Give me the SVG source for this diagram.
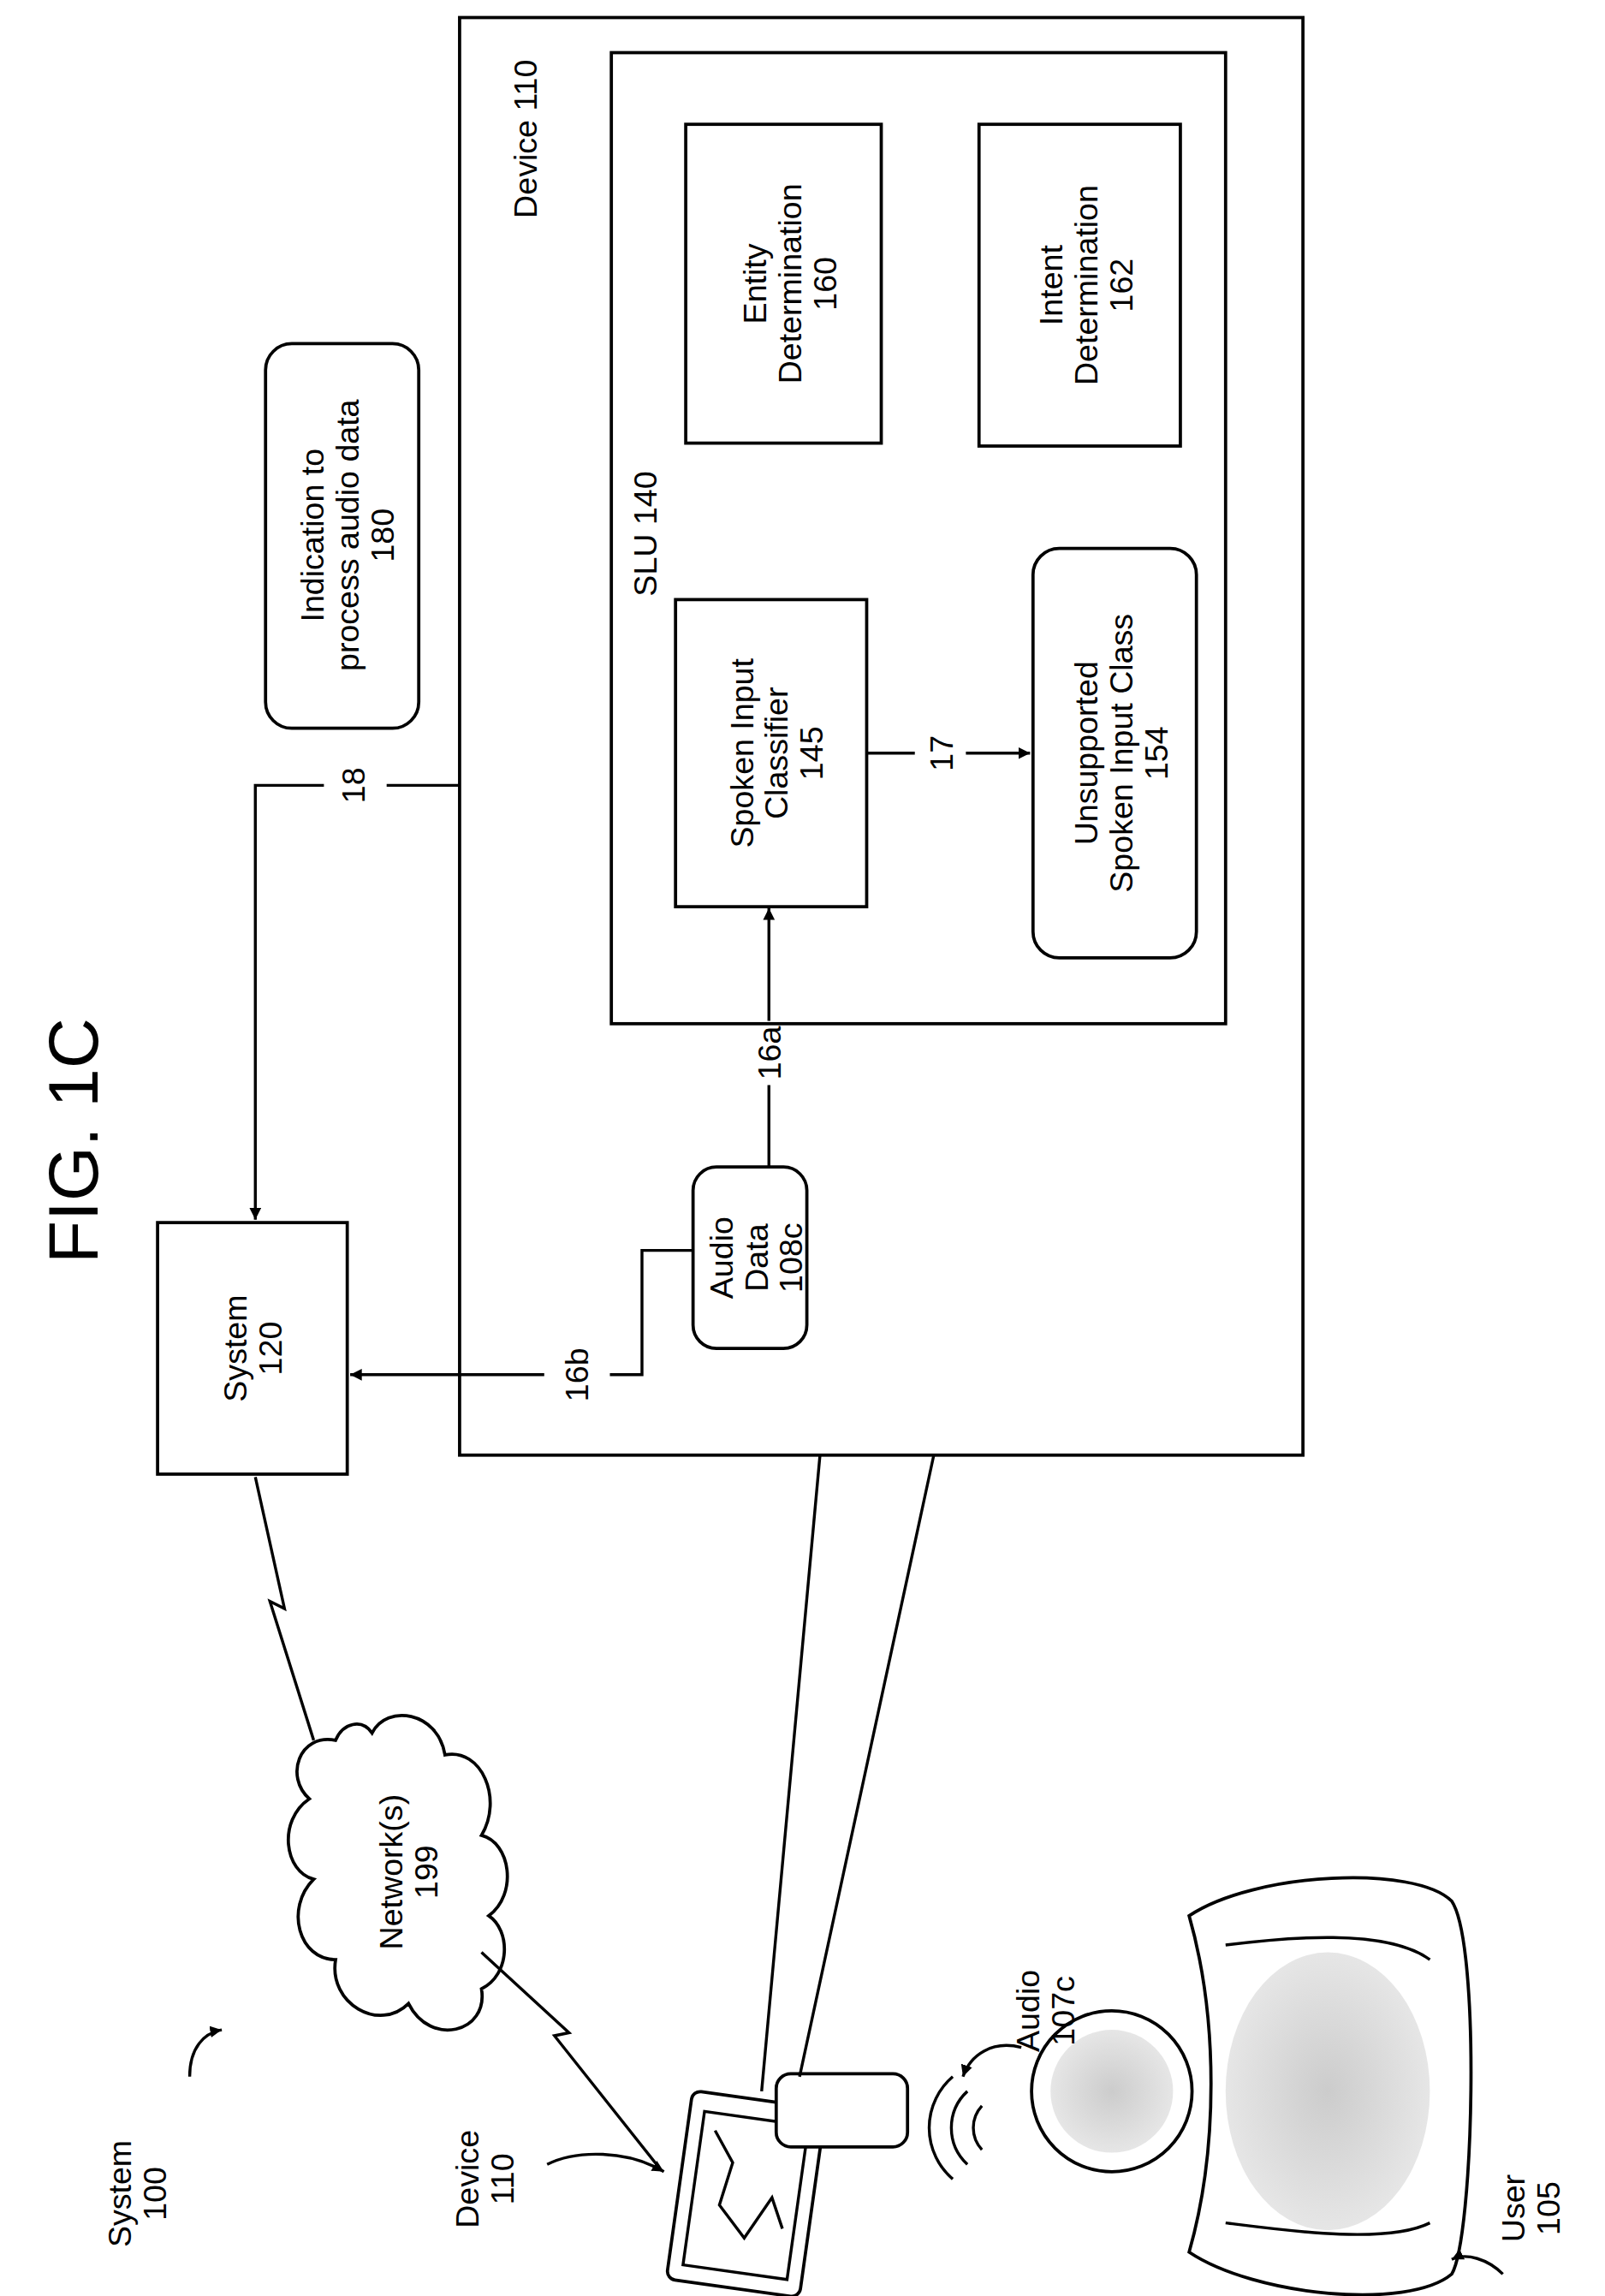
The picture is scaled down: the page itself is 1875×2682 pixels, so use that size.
<svg xmlns="http://www.w3.org/2000/svg" width="1875" height="2682" viewBox="0 0 1875 2682">
<style>
.b{fill:#fff;stroke:#000;stroke-width:2.2}
.l{fill:none;stroke:#000;stroke-width:2}
text{font-family:"Liberation Sans",Arial,sans-serif;font-size:22px;fill:#000;text-anchor:middle}
</style>
<defs>
<marker id="a" viewBox="0 0 10 10" refX="10" refY="5" markerWidth="8" markerHeight="8" markerUnits="userSpaceOnUse" orient="auto"><path d="M0,0L10,5L0,10z"/></marker>
<radialGradient id="s"><stop offset="0" stop-color="#ccc"/><stop offset="1" stop-color="#e6e6e6"/></radialGradient>
</defs>
<rect width="1875" height="2682" fill="#fff"/>
<g transform="scale(1.7045 1.7083)">
<text transform="rotate(-90 50 780)" x="50" y="797" style="font-size:48px">FIG. 1C</text>
<g id="device110box"><rect class="b" x="315" y="12" width="578" height="983"/>
<text transform="rotate(-90 360 95)" x="360" y="103">Device 110</text></g>
<g id="slu"><rect class="b" x="419" y="36" width="421" height="664"/>
<text transform="rotate(-90 442 365)" x="442" y="373">SLU  140</text></g>
<g id="entity"><rect class="b" x="470" y="85" width="134" height="218"/>
<text transform="rotate(-90 537 194)" x="537" y="182">Entity</text>
<text transform="rotate(-90 537 194)" x="537" y="206">Determination</text>
<text transform="rotate(-90 537 194)" x="537" y="230">160</text></g>
<g id="intent"><rect class="b" x="671" y="85" width="138" height="220"/>
<text transform="rotate(-90 740 195)" x="740" y="183">Intent</text>
<text transform="rotate(-90 740 195)" x="740" y="207">Determination</text>
<text transform="rotate(-90 740 195)" x="740" y="231">162</text></g>
<g id="classifier"><rect class="b" x="463" y="410" width="131" height="210"/>
<text transform="rotate(-90 528 515)" x="528" y="503">Spoken Input</text>
<text transform="rotate(-90 528 515)" x="528" y="527">Classifier</text>
<text transform="rotate(-90 528 515)" x="528" y="551">145</text></g>
<g id="unsupported"><rect class="b" x="708" y="375" width="112" height="280" rx="18"/>
<text transform="rotate(-90 764 515)" x="764" y="503">Unsupported</text>
<text transform="rotate(-90 764 515)" x="764" y="527">Spoken Input Class</text>
<text transform="rotate(-90 764 515)" x="764" y="551">154</text></g>
<g id="indication"><rect class="b" x="182" y="235" width="105" height="263" rx="18"/>
<text transform="rotate(-90 234 366)" x="234" y="354">Indication to</text>
<text transform="rotate(-90 234 366)" x="234" y="378">process audio data</text>
<text transform="rotate(-90 234 366)" x="234" y="402">180</text></g>
<g id="system120"><rect class="b" x="108" y="836" width="130" height="172"/>
<text transform="rotate(-90 173 922)" x="173" y="918">System</text>
<text transform="rotate(-90 173 922)" x="173" y="942">120</text></g>
<g id="audiodata"><rect class="b" x="475" y="798" width="78" height="124" rx="16"/>
<text transform="rotate(-90 514 860)" x="514" y="848">Audio</text>
<text transform="rotate(-90 514 860)" x="514" y="872">Data</text>
<text transform="rotate(-90 514 860)" x="514" y="896">108c</text></g>
<g id="network"><path class="b" d="M230,1190 C205,1185 195,1215 212,1230 C190,1245 195,1280 215,1285 C195,1305 205,1340 230,1340 C225,1370 260,1390 280,1370 C295,1400 335,1390 330,1360 C350,1350 350,1320 335,1310 C355,1295 350,1260 330,1255 C345,1230 330,1195 305,1200 C300,1170 265,1165 255,1185 C248,1175 235,1178 230,1190 Z"/>
<text transform="rotate(-90 280 1280)" x="280" y="1276">Network(s)</text>
<text transform="rotate(-90 280 1280)" x="280" y="1300">199</text></g>
<g id="device110"><g transform="rotate(8 510 1495)"><rect class="b" x="466" y="1435" width="92" height="130" rx="6"/><rect class="l" x="476" y="1448" width="72" height="106"/><path class="l" d="M485,1460 L500,1480 L495,1510 L515,1530 L530,1500 L540,1520" stroke-width="1.2"/></g>
<rect class="b" x="532" y="1418" width="90" height="50" rx="10"/></g>
<g id="user"><path class="b" d="M815,1310 C860,1280 970,1275 995,1300 C1015,1330 1010,1530 995,1555 C965,1580 860,1570 815,1540 C835,1470 835,1380 815,1310 Z"/>
<ellipse cx="910" cy="1430" rx="70" ry="95" fill="url(#s)"/>
<path class="l" d="M840,1330 C880,1325 950,1318 980,1340 M840,1520 C880,1525 950,1535 980,1520"/>
<circle class="b" cx="762" cy="1430" r="55"/><circle cx="762" cy="1430" r="42" fill="url(#s)"/></g>
<g id="connectors">
<path class="l" d="M527,798 V742 M527,698 V621" marker-end="url(#a)"/>
<text transform="rotate(-90 527 720)" x="527" y="728">16a</text>
<path class="l" d="M594,515 H627 M662,515 H706" marker-end="url(#a)"/>
<text transform="rotate(-90 645 515)" x="645" y="523">17</text>
<path class="l" d="M315,537 H265 M222,537 H175 V834" marker-end="url(#a)"/>
<text transform="rotate(-90 242 537)" x="242" y="545">18</text>
<path class="l" d="M475,855 H440 V940 H418 M373,940 H240" marker-end="url(#a)"/>
<text transform="rotate(-90 395 940)" x="395" y="948">16b</text>
<path class="l" d="M175,1010 L195,1100 L185,1095 L215,1190"/>
<path class="l" d="M330,1335 L390,1390 L380,1392 L450,1480"/>
<path class="l" d="M562,995 L522,1430 M640,995 L548,1420"/>
<path class="l" d="M673,1440 a22,22 0 0 0 0,30 M663,1430 a34,34 0 0 0 0,50 M653,1420 a46,46 0 0 0 0,70"/>
<path class="l" d="M700,1400 C680,1395 665,1405 660,1420" marker-end="url(#a)"/>
<text transform="rotate(-90 717 1375)" x="717" y="1370">Audio</text>
<text transform="rotate(-90 717 1375)" x="717" y="1394">107c</text>
<path class="l" d="M130,1420 C130,1400 140,1390 152,1388" marker-end="url(#a)"/>
<text transform="rotate(-90 95 1500)" x="95" y="1495">System</text>
<text transform="rotate(-90 95 1500)" x="95" y="1519">100</text>
<path class="l" d="M375,1480 C395,1470 430,1470 455,1485" marker-end="url(#a)"/>
<text transform="rotate(-90 333 1490)" x="333" y="1485">Device</text>
<text transform="rotate(-90 333 1490)" x="333" y="1509">110</text>
<path class="l" d="M1030,1555 C1020,1545 1005,1540 995,1545" marker-end="url(#a)"/>
<text transform="rotate(-90 1050 1510)" x="1050" y="1505">User</text>
<text transform="rotate(-90 1050 1510)" x="1050" y="1529">105</text>
</g>
</g>
</svg>
